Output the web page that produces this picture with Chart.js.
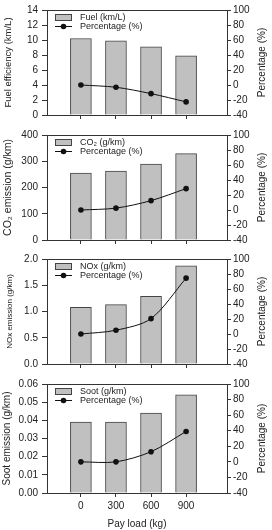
<!DOCTYPE html>
<html>
<head>
<meta charset="utf-8">
<script src="https://cdn.jsdelivr.net/npm/chart.js@4/dist/chart.umd.min.js"></script>
<style>
  body { margin: 0; background: #fff; }
  .charts { position: relative; width: 272px; height: 530px; }
  .charts canvas { position: absolute; left: 0; }
</style>
</head>
<body>
<div class="charts">
  <canvas id="fuelChart" width="272" height="125" style="top:0px"></canvas>
  <canvas id="co2Chart" width="272" height="125" style="top:125px"></canvas>
  <canvas id="noxChart" width="272" height="125" style="top:249px"></canvas>
  <canvas id="sootChart" width="272" height="156" style="top:374px"></canvas>
</div>
<script>
/* Dados */
const payLoad = [0, 300, 600, 900]

const fuel = [10.2, 9.9, 9.1, 7.9]
const fuelPercent = [0, -3, -11.5, -22.5]

const co2 = [255, 263, 289, 329]
const co2Percent = [0, 2.5, 12.5, 28.5]

const nox = [1.08, 1.13, 1.29, 1.87]
const noxPercent = [0, 5, 20.5, 74.5]

const soot = [0.039, 0.039, 0.044, 0.054]
const sootPercent = [0, 0, 13, 39]

const fuelTicks = [0, 2, 4, 6, 8, 10, 12, 14]
const co2Ticks = [0, 100, 200, 300, 400]
const noxTicks = [0, 0.5, 1.0, 1.5, 2.0]
const sootTicks = [0, 0.01, 0.02, 0.03, 0.04, 0.05, 0.06]
const percentTicks = [-40, -20, 0, 20, 40, 60, 80, 100]

const barFill = '#c0c0c0'
const barBorder = '#444'
const axisColor = '#333'
const textColor = '#222'

Chart.defaults.font.family = '"Liberation Sans", Arial, sans-serif'
Chart.defaults.color = textColor

function toPoints(values) {
    return values.map((value, i) => ({ x: payLoad[i], y: value }))
}

// Moldura superior, legenda e título do eixo direito
const frameAndLegend = {
    id: 'frameAndLegend',
    afterDraw(chart) {
        const { ctx, chartArea } = chart
        const { left, top, right, bottom } = chartArea
        const lineLabel = chart.data.datasets[0].label
        const barLabel = chart.data.datasets[1].label

        ctx.save()
        ctx.strokeStyle = axisColor
        ctx.lineWidth = 1
        ctx.beginPath()
        ctx.moveTo(Math.round(left), Math.round(top) + 0.5)
        ctx.lineTo(Math.round(right) + 1, Math.round(top) + 0.5)
        ctx.stroke()

        const bx = Math.round(left) + 8
        const by = Math.round(top)
        ctx.fillStyle = barFill
        ctx.fillRect(bx + 0.5, by + 4.5, 16, 6)
        ctx.strokeStyle = barBorder
        ctx.strokeRect(bx + 0.5, by + 4.5, 16, 6)

        ctx.strokeStyle = '#111'
        ctx.beginPath()
        ctx.moveTo(bx, by + 16.5)
        ctx.lineTo(bx + 17, by + 16.5)
        ctx.stroke()
        ctx.beginPath()
        ctx.arc(bx + 8.5, by + 16.5, 2.8, 0, Math.PI * 2)
        ctx.fillStyle = '#111'
        ctx.fill()

        ctx.fillStyle = textColor
        ctx.font = '9px "Liberation Sans", Arial, sans-serif'
        ctx.textBaseline = 'middle'
        ctx.fillText(barLabel, bx + 25, by + 8)
        ctx.fillText(lineLabel, bx + 25, by + 17)

        ctx.translate(262, (top + bottom) / 2)
        ctx.rotate(-Math.PI / 2)
        ctx.textAlign = 'center'
        ctx.font = '10px "Liberation Sans", Arial, sans-serif'
        ctx.fillText(lineLabel, 0, 0)
        ctx.restore()
    }
}

function makePanel(id, panel) {
    const canvas = document.getElementById(id)

    new Chart(canvas, {
        type: 'bar',
        data: {
            datasets: [
                {
                    type: 'line',
                    label: 'Percentage (%)',
                    data: toPoints(panel.percent),
                    yAxisID: 'y1',
                    borderColor: '#111',
                    borderWidth: 1,
                    pointRadius: 2.8,
                    pointBackgroundColor: '#111',
                    pointBorderWidth: 0,
                    tension: 0.3
                },
                {
                    type: 'bar',
                    label: panel.label,
                    data: toPoints(panel.values),
                    yAxisID: 'y',
                    backgroundColor: barFill,
                    borderColor: barBorder,
                    borderWidth: 1,
                    barThickness: 21
                }
            ]
        },
        options: {
            responsive: false,
            animation: false,
            layout: { padding: { top: 7, left: 0, right: 0, bottom: 0 } },
            plugins: {
                legend: { display: false },
                tooltip: { enabled: false }
            },
            scales: {
                x: {
                    type: 'linear',
                    min: -290,
                    max: 1250,
                    offset: false,
                    grid: { offset: false, drawOnChartArea: false, tickLength: 4, color: axisColor },
                    border: { color: axisColor },
                    afterBuildTicks: (scale) => { scale.ticks = payLoad.map((v) => ({ value: v })) },
                    afterFit: (scale) => { scale.height = panel.showX ? 37 : 6 },
                    ticks: {
                        display: panel.showX,
                        font: { size: 10 },
                        padding: 3,
                        maxRotation: 0,
                        callback: (v) => String(v)
                    },
                    title: {
                        display: panel.showX,
                        text: 'Pay load (kg)',
                        font: { size: 10 },
                        padding: { top: 0, bottom: 0 }
                    }
                },
                y: {
                    position: 'left',
                    min: panel.ticks[0],
                    max: panel.ticks[panel.ticks.length - 1],
                    grid: { drawOnChartArea: false, tickLength: 5, color: axisColor },
                    border: { color: axisColor },
                    afterBuildTicks: (scale) => { scale.ticks = panel.ticks.map((v) => ({ value: v })) },
                    afterFit: (scale) => { scale.width = 47 },
                    ticks: {
                        font: { size: 10 },
                        padding: 4,
                        callback: (v) => v.toFixed(panel.decimals)
                    },
                    title: {
                        display: true,
                        text: panel.title,
                        font: { size: panel.titleSize },
                        padding: { top: panel.titlePad, bottom: 0 }
                    }
                },
                y1: {
                    position: 'right',
                    min: -40,
                    max: 100,
                    grid: { drawOnChartArea: false, tickLength: 4, color: axisColor },
                    border: { color: axisColor },
                    afterBuildTicks: (scale) => { scale.ticks = percentTicks.map((v) => ({ value: v })) },
                    afterFit: (scale) => { scale.width = 45 },
                    ticks: { font: { size: 10 }, padding: 2 }
                }
            }
        },
        plugins: [frameAndLegend]
    })
}

makePanel('fuelChart', {
    label: 'Fuel (km/L)', values: fuel, percent: fuelPercent, ticks: fuelTicks,
    decimals: 0, title: 'Fuel efficiency (km/L)', titleSize: 9.5, titlePad: 3, showX: false
})

makePanel('co2Chart', {
    label: 'CO₂ (g/km)', values: co2, percent: co2Percent, ticks: co2Ticks,
    decimals: 0, title: 'CO₂ emission (g/km)', titleSize: 10.5, titlePad: 1.5, showX: false
})

makePanel('noxChart', {
    label: 'NOx (g/km)', values: nox, percent: noxPercent, ticks: noxTicks,
    decimals: 1, title: 'NOx emission (g/km)', titleSize: 8, titlePad: 5, showX: false
})

makePanel('sootChart', {
    label: 'Soot (g/km)', values: soot, percent: sootPercent, ticks: sootTicks,
    decimals: 2, title: 'Soot emission (g/km)', titleSize: 10, titlePad: 1, showX: true
})
</script>
</body>
</html>
